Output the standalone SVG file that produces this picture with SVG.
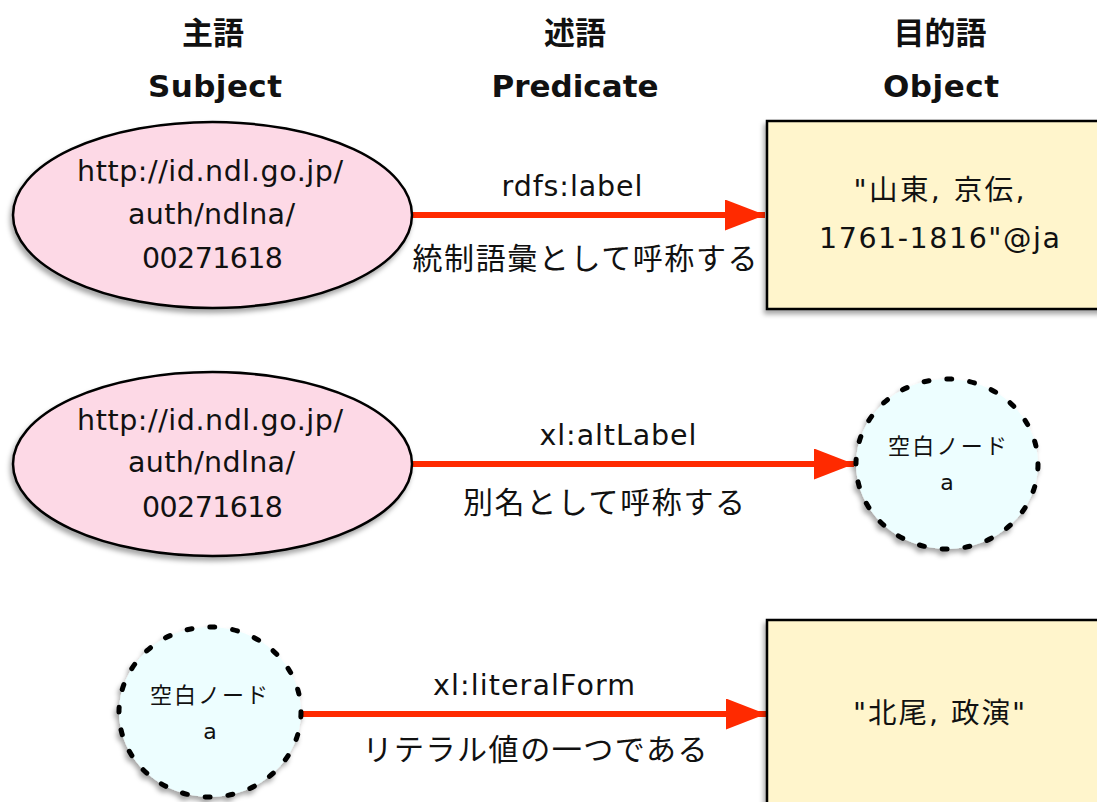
<svg xmlns="http://www.w3.org/2000/svg" width="1097" height="802" viewBox="0 0 1097 802">
  <defs>
    <filter id="shadow" x="-20%" y="-20%" width="140%" height="150%">
      <feDropShadow dx="-2" dy="4" stdDeviation="2.5" flood-color="#000" flood-opacity="0.35"/>
    </filter>
    <marker id="arrow" viewBox="0 0 40 31" refX="40" refY="15.5" markerWidth="40" markerHeight="31" markerUnits="userSpaceOnUse" orient="auto">
      <path d="M0,0 L40,15.5 L0,31 Z" fill="#ff2a00"/>
    </marker>
  </defs>
  <style>
    text { font-family: "DejaVu Sans", "Noto Sans CJK JP", sans-serif; fill: #111; text-anchor: middle; }
    .head { font-size: 31px; font-weight: bold; }
    .uri { font-size: 28.5px; }
    .lbl { font-size: 28.5px; }
    .jp { font-size: 30px; }
    .lit { font-size: 28.5px; }
    .bn { font-size: 22px; }
    .uri-node { fill: #fdd9e6; stroke: #000; stroke-width: 2.5; filter: url(#shadow); }
    .lit-node { fill: #fff5cc; stroke: #000; stroke-width: 2.5; filter: url(#shadow); }
    .blank-node { fill: #edfeff; stroke: #000; stroke-width: 5; stroke-dasharray: 5 18; stroke-linecap: round; filter: url(#shadow); }
    .edge { stroke: #ff2a00; stroke-width: 6; fill: none; marker-end: url(#arrow); }
  </style>

  <!-- column headings -->
  <g id="headings">
    <text class="head" x="213" y="44">主語</text>
    <text class="head" x="215" y="97" textLength="134" lengthAdjust="spacing">Subject</text>
    <text class="head" x="575" y="44">述語</text>
    <text class="head" x="575" y="97" textLength="167" lengthAdjust="spacing">Predicate</text>
    <text class="head" x="940" y="44">目的語</text>
    <text class="head" x="941" y="97" textLength="116" lengthAdjust="spacing">Object</text>
  </g>

  <!-- connectors -->
  <g id="edges">
    <line class="edge" x1="410" y1="215" x2="765" y2="215"/>
    <line class="edge" x1="410" y1="464" x2="854" y2="464"/>
    <line class="edge" x1="302" y1="714" x2="766" y2="714"/>
  </g>

  <!-- predicate labels -->
  <g id="edge-labels">
    <text class="lbl" x="572" y="196" textLength="141" lengthAdjust="spacing">rdfs:label</text>
    <text class="jp" x="585" y="269" textLength="345" lengthAdjust="spacing">統制語彙として呼称する</text>
    <text class="lbl" x="618" y="445" textLength="157" lengthAdjust="spacing">xl:altLabel</text>
    <text class="jp" x="604" y="513" textLength="282" lengthAdjust="spacing">別名として呼称する</text>
    <text class="lbl" x="534" y="695" textLength="202" lengthAdjust="spacing">xl:literalForm</text>
    <text class="jp" x="535" y="760" textLength="345" lengthAdjust="spacing">リテラル値の一つである</text>
  </g>

  <!-- row 1 -->
  <g id="subject-1">
    <ellipse class="uri-node" cx="212.5" cy="215" rx="199.5" ry="93"/>
    <text class="uri" x="210" y="181" textLength="266" lengthAdjust="spacing">http://id.ndl.go.jp/</text>
    <text class="uri" x="211.5" y="224" textLength="167" lengthAdjust="spacing">auth/ndlna/</text>
    <text class="uri" x="212.5" y="268" textLength="141" lengthAdjust="spacing">00271618</text>
  </g>
  <g id="object-1">
    <rect class="lit-node" x="767" y="121" width="340" height="188"/>
    <text class="lit" x="939" y="200" textLength="171" lengthAdjust="spacing">"山東, 京伝,</text>
    <text class="lit" x="939.5" y="248" textLength="241" lengthAdjust="spacing">1761-1816"@ja</text>
  </g>

  <!-- row 2 -->
  <g id="subject-2">
    <ellipse class="uri-node" cx="212.5" cy="464" rx="199.5" ry="92"/>
    <text class="uri" x="210" y="430" textLength="266" lengthAdjust="spacing">http://id.ndl.go.jp/</text>
    <text class="uri" x="211.5" y="472" textLength="167" lengthAdjust="spacing">auth/ndlna/</text>
    <text class="uri" x="212.5" y="517" textLength="141" lengthAdjust="spacing">00271618</text>
  </g>
  <g id="blank-a-object">
    <ellipse class="blank-node" cx="947" cy="464" rx="91" ry="85"/>
    <text class="bn" x="947.5" y="454" textLength="119" lengthAdjust="spacing">空白ノード</text>
    <text class="bn" x="947" y="490">a</text>
  </g>

  <!-- row 3 -->
  <g id="blank-a-subject">
    <ellipse class="blank-node" cx="210" cy="712" rx="91" ry="85"/>
    <text class="bn" x="209" y="703" textLength="118" lengthAdjust="spacing">空白ノード</text>
    <text class="bn" x="210" y="739">a</text>
  </g>
  <g id="object-3">
    <rect class="lit-node" x="767" y="620" width="340" height="200"/>
    <text class="lit" x="939" y="723" textLength="172" lengthAdjust="spacing">"北尾, 政演"</text>
  </g>
</svg>
